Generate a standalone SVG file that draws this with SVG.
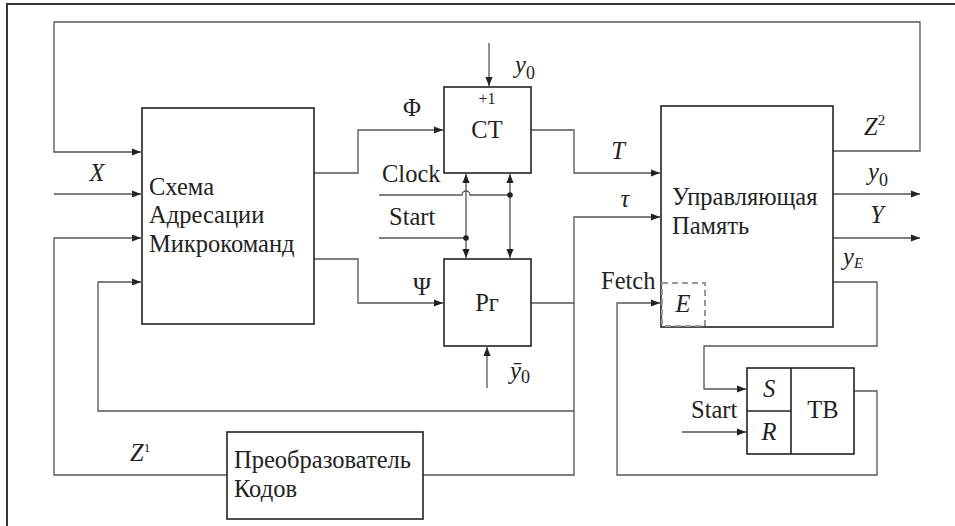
<svg xmlns="http://www.w3.org/2000/svg" width="955" height="526" viewBox="0 0 955 526">
<style>
text{font-family:"Liberation Serif","Times New Roman",serif;fill:#222}
.box{fill:#fff;stroke:#222;stroke-width:1.6}
.w{fill:none;stroke:#555;stroke-width:1.3}
.lbl{font-size:24.5px}
.it{font-style:italic}
.frame{fill:none;stroke:#333;stroke-width:2}
</style>
<defs>
<marker id="arr" viewBox="0 0 10 10" refX="10" refY="5" markerWidth="9" markerHeight="9" markerUnits="userSpaceOnUse" orient="auto-start-reverse">
<path d="M0,1 L10,5 L0,9 Z" fill="#222"/>
</marker>
<circle id="dot" r="2.8" fill="#222"/>
</defs>
<rect width="955" height="526" fill="#fff"/>
<path class="frame" d="M7,526 V4 H955"/>

<g id="connectors">
<path class="w" d="M833,151 H920 V22 H54 V152 H141" marker-end="url(#arr)"/>
<path class="w" d="M54,194 H141" marker-end="url(#arr)"/>
<path class="w" d="M227,475 H54 V238 H141" marker-end="url(#arr)"/>
<path class="w" d="M574,411 H98 V282 H141" marker-end="url(#arr)"/>
<path class="w" d="M314,173 H358 V130 H443" marker-end="url(#arr)"/>
<path class="w" d="M314,259 H358 V303 H443" marker-end="url(#arr)"/>
<path class="w" d="M489,43 V86" marker-end="url(#arr)"/>
<path class="w" d="M487,388 V347" marker-end="url(#arr)"/>
<path class="w" d="M531,130 H574 V173 H660" marker-end="url(#arr)"/>
<path class="w" d="M531,303 H574 V217 H660" marker-end="url(#arr)"/>
<path class="w" d="M574,303 V475 H423"/>
<path class="w" d="M379,195 H462 A4,4 0 0 1 470,195 H510"/>
<path class="w" d="M379,238 H466"/>
<path class="w" d="M466,174 V258" marker-start="url(#arr)" marker-end="url(#arr)"/>
<path class="w" d="M510,174 V258" marker-start="url(#arr)" marker-end="url(#arr)"/>
<use href="#dot" x="510" y="195"/>
<use href="#dot" x="466" y="238"/>
<path class="w" d="M833,194 H920" marker-end="url(#arr)"/>
<path class="w" d="M833,238 H920" marker-end="url(#arr)"/>
<path class="w" d="M833,282 H877 V346 H704 V389 H746" marker-end="url(#arr)"/>
<path class="w" d="M682,432 H746" marker-end="url(#arr)"/>
<path class="w" d="M854,391 H877 V475 H617 V303 H660" marker-end="url(#arr)"/>
</g>

<g id="sam">
<rect class="box" x="142" y="108" width="172" height="216"/>
<text class="lbl" x="149" y="195">Схема</text>
<text class="lbl" x="149" y="223">Адресации</text>
<text class="lbl" x="149" y="252">Микрокоманд</text>
</g>

<g id="ct">
<rect class="box" x="444" y="87" width="87" height="86"/>
<text x="487" y="104" font-size="16" text-anchor="middle">+1</text>
<text class="lbl" x="487" y="138" text-anchor="middle">СТ</text>
</g>

<g id="pr">
<rect class="box" x="444" y="259" width="87" height="87"/>
<text class="lbl" x="487" y="311" text-anchor="middle">Рг</text>
</g>

<g id="up">
<rect class="box" x="661" y="106" width="172" height="221"/>
<text class="lbl" x="672" y="205">Управляющая</text>
<text class="lbl" x="672" y="234">Память</text>
<rect x="662" y="283" width="43" height="43" fill="none" stroke="#999" stroke-width="2" stroke-dasharray="6,4"/>
<text class="lbl it" x="683" y="312" text-anchor="middle">E</text>
</g>

<g id="tb">
<rect class="box" x="747" y="368" width="107" height="86"/>
<path d="M791,368 V454 M747,411 H791" stroke="#222" stroke-width="1.6" fill="none"/>
<text class="lbl it" x="769" y="397" text-anchor="middle">S</text>
<text class="lbl it" x="769" y="440" text-anchor="middle">R</text>
<text class="lbl" x="823" y="418" text-anchor="middle">ТВ</text>
</g>

<g id="pk">
<rect class="box" x="227" y="432" width="196" height="87"/>
<text class="lbl" x="234" y="468">Преобразователь</text>
<text class="lbl" x="234" y="497">Кодов</text>
</g>

<g id="labels">
<text class="lbl it" x="97" y="181" text-anchor="middle">X</text>
<text class="lbl" x="412" y="116" text-anchor="middle">Φ</text>
<text class="lbl" x="422" y="295" text-anchor="middle">Ψ</text>
<text class="lbl" x="382" y="182">Clock</text>
<text class="lbl" x="389" y="225">Start</text>
<text class="lbl" x="515" y="73"><tspan class="it">y</tspan><tspan font-size="18" dy="6">0</tspan></text>
<text class="lbl" x="510" y="379"><tspan class="it">ȳ</tspan><tspan font-size="18" dy="4">0</tspan></text>
<text class="lbl it" x="618" y="159" text-anchor="middle">T</text>
<text class="lbl it" x="625" y="207" text-anchor="middle">τ</text>
<text class="lbl" x="864" y="135"><tspan class="it">Z</tspan><tspan font-size="15" dy="-10">2</tspan></text>
<text class="lbl" x="868" y="180"><tspan class="it">y</tspan><tspan font-size="18" dy="6">0</tspan></text>
<text class="lbl it" x="877" y="223" text-anchor="middle">Y</text>
<text class="lbl" x="843" y="265"><tspan class="it">y</tspan><tspan class="it" font-size="15" dy="3">E</tspan></text>
<text class="lbl" x="601" y="289">Fetch</text>
<text class="lbl" x="691" y="418">Start</text>
<text class="lbl" x="130" y="461"><tspan class="it">Z</tspan><tspan font-size="13" dy="-9">1</tspan></text>
</g>
</svg>
